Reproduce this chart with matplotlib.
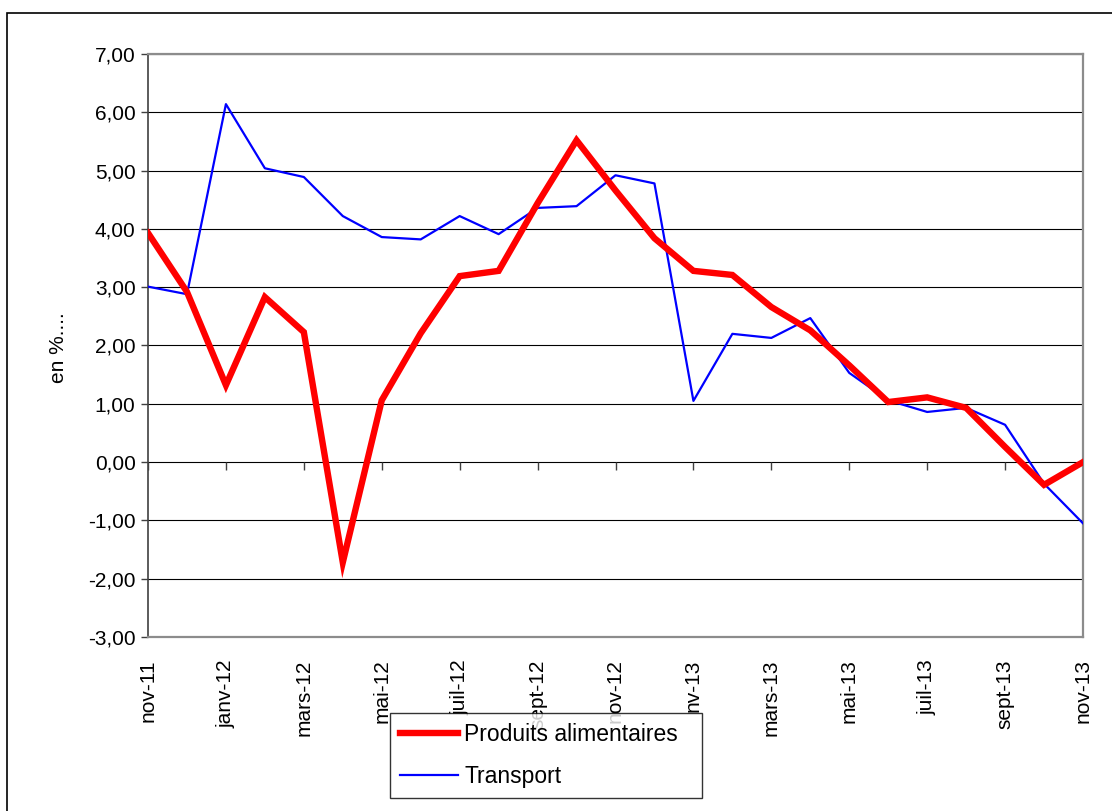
import matplotlib
matplotlib.use("Agg")
import matplotlib.pyplot as plt
from matplotlib import markers
from matplotlib.patches import Rectangle
from matplotlib.ticker import FuncFormatter, FixedLocator

plt.rcParams['font.family'] = ['Liberation Sans', 'DejaVu Sans']

months = ["nov-11", "déc-11", "janv-12", "févr-12", "mars-12", "avr-12", "mai-12",
          "juin-12", "juil-12", "août-12", "sept-12", "oct-12", "nov-12", "déc-12",
          "janv-13", "févr-13", "mars-13", "avr-13", "mai-13", "juin-13", "juil-13",
          "août-13", "sept-13", "oct-13", "nov-13"]
tick_labels = ["nov-11", "janv-12", "mars-12", "mai-12", "juil-12", "sept-12", "nov-12",
               "nv-13", "mars-13", "mai-13", "juil-13", "sept-13", "nov-13"]

produits_alimentaires = [3.93, 2.92, 1.32, 2.83, 2.23, -1.72, 1.06, 2.21, 3.19, 3.28,
                         4.44, 5.52, 4.66, 3.84, 3.28, 3.21, 2.66, 2.26, 1.66, 1.03,
                         1.11, 0.93, 0.26, -0.39, 0.00]
transport = [3.01, 2.88, 6.14, 5.04, 4.89, 4.22, 3.86, 3.82, 4.22, 3.91,
             4.36, 4.39, 4.92, 4.78, 1.05, 2.20, 2.13, 2.47, 1.53, 1.06,
             0.86, 0.93, 0.64, -0.37, -1.05]

W, H = 1112, 811
fig = plt.figure(figsize=(W / 100, H / 100), dpi=100)
fig.patch.set_facecolor('white')

# outer chart border
fig.patches.append(Rectangle((7 / W, -0.01), 1.02, 1 - 13 / H + 0.01,
                             transform=fig.transFigure, fill=False,
                             edgecolor='black', linewidth=1.2))

ax = fig.add_axes([148 / W, 1 - 637 / H, (1083 - 148) / W, (637 - 54) / H])
x = list(range(len(months)))

ax.plot(x, transport, color='#0000FF', linewidth=1.6, label='Transport', zorder=3)
ax.plot(x, produits_alimentaires, color='#FF0000', linewidth=4.6,
        label='Produits alimentaires', zorder=4, solid_joinstyle='miter')

ax.set_xlim(0, len(months) - 1)
ax.set_ylim(-3, 7)
ax.set_yticks(range(-3, 8))
ax.yaxis.set_major_formatter(FuncFormatter(lambda v, p: f"{v:.2f}".replace('.', ',')))
ax.grid(axis='y', color='black', linewidth=0.8)
ax.set_axisbelow(True)

tick_pos = x[::2]
ax.xaxis.set_major_locator(FixedLocator(tick_pos))
ax.set_xticklabels(tick_labels, rotation=90, ha='center', va='top')
ax.tick_params(axis='x', length=0, pad=16, labelsize=15)
ax.tick_params(axis='y', length=5, width=1, pad=4, labelsize=15, color='#404040')

# tick marks on the zero line
ax.plot(tick_pos, [0] * len(tick_pos), linestyle='none', marker=markers.TICKDOWN,
        markersize=6, markeredgewidth=1.0, color='#404040', zorder=2)

for s in ['top', 'right', 'bottom']:
    ax.spines[s].set_color('#8c8c8c')
    ax.spines[s].set_linewidth(1.6)
ax.spines['left'].set_color('#404040')
ax.spines['left'].set_linewidth(1.2)

fig.text(59 / W, 1 - 348 / H, "en %....", rotation=90, ha='center', va='center',
         fontsize=15)

handles, labels = ax.get_legend_handles_labels()
leg = fig.legend(handles[::-1], labels[::-1], loc='lower left',
                 bbox_to_anchor=(390 / W, 13 / H, 312 / W, 84 / H), mode='expand',
                 fontsize=16.5, frameon=True, fancybox=False, handlelength=2.5,
                 handletextpad=0.3, borderaxespad=0, labelspacing=0.8,
                 borderpad=0.45)
leg.get_frame().set_edgecolor('black')
leg.get_frame().set_linewidth(1.0)
leg.set_zorder(10)

fig.savefig("out.png", dpi=100)
